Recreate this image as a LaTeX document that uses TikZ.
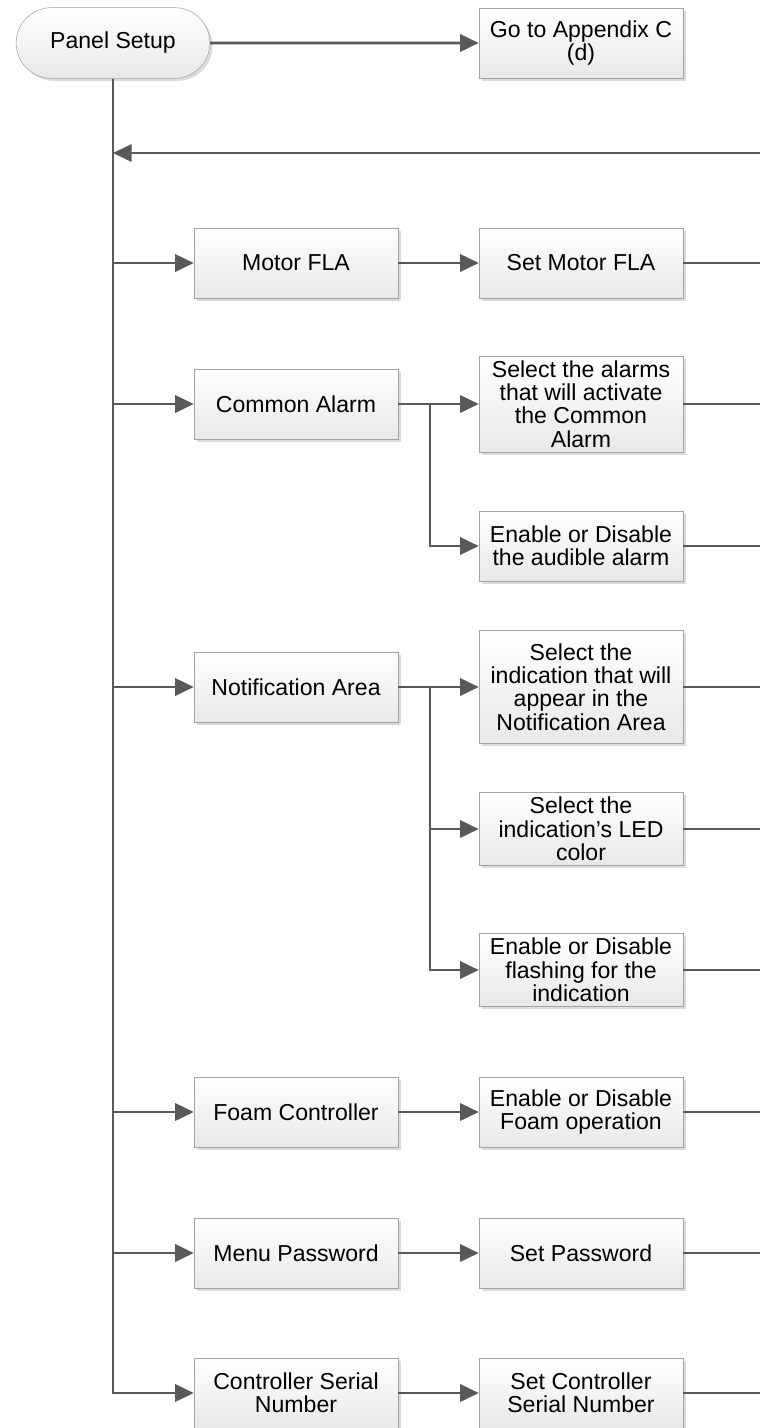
\documentclass[tikz,border=0pt]{standalone}
\usepackage{fontspec}
\setmainfont{Liberation Sans}
\usepackage{xcolor}
\usetikzlibrary{shapes.misc,arrows.meta,shadows,positioning}
\definecolor{linegray}{HTML}{595959}
\definecolor{boxline}{HTML}{A3A3A3}

\begin{document}
\begin{tikzpicture}[x=0.75pt, y=-0.75pt, node distance=213.75pt, font=\fontsize{17.3}{17.5}\selectfont]
% Define styles
\tikzstyle{startstop} = [rounded rectangle, minimum width=152pt, minimum height=53pt, text centered, draw=boxline, top color=white, bottom color=black!9, drop shadow={shadow xshift=2pt, shadow yshift=-2pt, fill=black!14, opacity=1}]
\tikzstyle{process} = [rectangle, minimum width=153pt, minimum height=52.5pt, align=center, draw=boxline, top color=white, bottom color=black!9, drop shadow={shadow xshift=2pt, shadow yshift=-2pt, fill=black!14, opacity=1}]
\tikzstyle{arrow} = [draw=linegray, line width=2pt, -{Triangle[length=14pt, width=13pt]}]
\tikzstyle{line} = [draw=linegray, line width=2pt]

\useasboundingbox (0,0) rectangle (760,1428);

% Define nodes
\node (setup) [startstop] at (113,43) {Panel Setup};
\node (appendix) [process] at (581,43) {Go to Appendix C\\(d)};
\node (fla) [process] at (296,263) {Motor FLA};
\node (setfla) [process, right of=fla] {Set Motor FLA};
\node (calarm) [process] at (296,404) {Common Alarm};
\node (alarmsel) [process, right of=calarm, minimum height=70pt] {Select the alarms\\that will activate\\the Common\\Alarm};
\node (audible) [process] at (581,546) {Enable or Disable\\the audible alarm};
\node (notif) [process] at (296,687) {Notification Area};
\node (indsel) [process, right of=notif, minimum height=85pt] {Select the\\indication that will\\appear in the\\Notification Area};
\node (ledcolor) [process] at (581,829) {Select the\\indication’s LED\\color};
\node (flashing) [process] at (581,970) {Enable or Disable\\flashing for the\\indication};
\node (foam) [process] at (296,1112) {Foam Controller};
\node (foamop) [process, right of=foam] {Enable or Disable\\Foam operation};
\node (menupw) [process] at (296,1253) {Menu Password};
\node (setpw) [process, right of=menupw] {Set Password};
\node (serial) [process] at (296,1393) {Controller Serial\\Number};
\node (setserial) [process, right of=serial] {Set Controller\\Serial Number};

% Free ends and branch points
\coordinate (back) at (760,153);
\coordinate (spineback) at (113,153);
\coordinate (cabr) at (430,404);
\coordinate (nabr) at (430,687);
\foreach \n/\y in {fla/263, alarm/404, audible/546, ind/687, led/829, flash/970, foam/1112, pw/1253, serial/1393}
  \coordinate (out\n) at (760,\y);

% Draw arrows
\draw [arrow] (setup) -- (appendix);
\draw [line] (setup.south) -- (serial.west -| setup.south);
\draw [arrow] (back) -- (spineback);
\draw [arrow] (setup.south) |- (fla);
\draw [arrow] (setup.south) |- (calarm);
\draw [arrow] (setup.south) |- (notif);
\draw [arrow] (setup.south) |- (foam);
\draw [arrow] (setup.south) |- (menupw);
\draw [arrow] (setup.south) |- (serial);
\draw [arrow] (fla) -- (setfla);
\draw [arrow] (calarm) -- (alarmsel);
\draw [arrow] (cabr) |- (audible);
\draw [arrow] (notif) -- (indsel);
\draw [arrow] (nabr) |- (ledcolor);
\draw [arrow] (nabr) |- (flashing);
\draw [arrow] (foam) -- (foamop);
\draw [arrow] (menupw) -- (setpw);
\draw [arrow] (serial) -- (setserial);
\draw [line] (setfla) -- (outfla);
\draw [line] (alarmsel) -- (outalarm);
\draw [line] (audible) -- (outaudible);
\draw [line] (indsel) -- (outind);
\draw [line] (ledcolor) -- (outled);
\draw [line] (flashing) -- (outflash);
\draw [line] (foamop) -- (outfoam);
\draw [line] (setpw) -- (outpw);
\draw [line] (setserial) -- (outserial);
\end{tikzpicture}
\end{document}
